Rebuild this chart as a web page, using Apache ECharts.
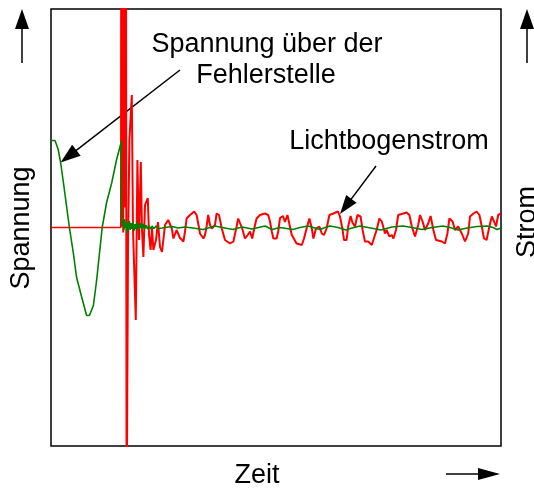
<!DOCTYPE html>
<html>
<head>
<meta charset="utf-8">
<script src="https://cdn.jsdelivr.net/npm/echarts@6/dist/echarts.min.js"></script>
<style>
  html, body { margin: 0; padding: 0; background: #fff; }
  #chart { width: 534px; height: 488px; }
</style>
</head>
<body>
<div id="chart"></div>
<script>
// Zeit in ms, Spannung in kV, Strom in kA

// Spannung über der Fehlerstelle
const voltageTime = [
  0, 0.5, 1.0, 1.8, 2.4, 3.1, 3.9, 4.6, 5.6, 6.4,
  7.7, 8.9, 9.6, 10.6, 11.4, 12.8, 13.9, 15.2, 16.4, 17.6,
  17.7, 17.9, 18.05, 18.25, 18.4, 18.6, 18.8, 19.0, 19.25, 19.4,
  19.6, 19.8, 20.0, 20.25, 20.5, 20.75, 21.0, 21.25, 21.5, 21.75,
  22.0, 22.25, 22.5, 22.75, 23.0, 23.4, 23.75, 24.1, 24.5, 24.9,
  25.25, 25.75, 26.25, 26.75, 27.25, 27.75,
  28.5, 30.25, 31.75, 33.5, 35.5, 38.0, 39.75, 41.0, 42.75, 45.5,
  47.75, 50.25, 53.5, 55.25, 57.25, 60.5, 62.25, 64.25, 66.0, 67.25,
  68.5, 69.75, 71.75, 73.75, 75.25, 77.25, 79.25, 82.5, 85.25, 88.0,
  90.25, 92.75, 95.25, 98.0, 99.75, 101.75, 104.0, 106.5, 109.0, 110.5,
  111.5, 112.5
];
const voltage = [
  8.7, 8.8, 8.7, 7.8, 6.5, 4.5, 2.1, 0.0, -2.6, -5.0,
  -7.0, -8.8, -8.8, -7.8, -5.3, 0.0, 2.5, 4.5, 6.8, 8.6,
  1.05, 0.15, 0.75, -0.25, 0.85, -0.05, 0.55, -0.55, 0.45, -0.15,
  0.65, -0.25, 0.45, -0.15, 0.55, -0.35, 0.35, -0.15, 0.55, -0.25,
  0.25, -0.05, 0.45, -0.15, 0.35, -0.15, 0.25, -0.15, 0.15, -0.15,
  0.15, -0.1, 0.15, -0.1, 0.1, -0.05,
  0, 0.1, -0.05, 0.05, -0.05, -0.2, 0, 0.15, 0, -0.2,
  0.05, -0.15, 0.15, -0.2, 0, -0.2, 0, 0.15, -0.05, -0.2,
  0, 0.15, 0, -0.25, -0.05, 0.15, 0, -0.25, 0.05, 0.15,
  0, -0.2, 0, 0.15, 0, -0.25, -0.05, 0.1, 0.15, 0,
  -0.2, -0.05
];

// Strom: Einschwingvorgang und Lichtbogenstrom
const currentTime = [
  0, 17.5, 17.55, 17.65, 17.75, 17.85, 17.95, 18.05, 18.15, 18.25,
  18.35, 18.45, 18.55, 18.65, 18.75, 18.9,
  19.25, 19.6, 20.2, 20.5, 21.2, 21.6, 22.0, 22.45, 22.75, 23.1,
  23.5, 24.2, 24.5, 24.9, 25.25, 25.6, 26.25, 26.75, 27.25, 27.75,
  28.5, 29.3, 29.75, 30.2, 30.6, 31.0, 31.4, 31.8, 32.25, 32.7,
  33.1, 33.5, 33.9, 34.75, 35.8, 36.4, 36.8, 37.25, 38.1, 38.5,
  38.9, 39.3, 39.75, 40.2, 41.0, 41.4, 42.0, 42.7, 43.5, 44.75,
  45.2, 45.6, 46.4, 46.8, 47.25, 47.8, 48.5, 49.2, 49.75, 50.3,
  51.0, 51.4, 52.25, 53.5, 54.3, 54.75, 55.2, 55.6, 56.4, 56.8,
  57.25, 58.0, 58.5, 59.1, 60.2, 61.4, 62.7, 63.25, 63.9, 64.6,
  65.2, 65.6, 66.25, 67.1, 67.7, 68.25, 68.9, 69.6, 70.6, 71.75,
  72.25, 72.9, 73.25, 73.9, 74.3, 74.9, 75.4, 76.0, 76.6, 77.4,
  77.9, 78.5, 79.3, 80.2, 80.6, 81.4, 82.1, 82.7, 83.5, 83.9,
  84.6, 85.2, 85.6, 86.25, 86.8, 87.7, 88.9, 89.6, 90.2, 91.0,
  91.8, 92.25, 92.9, 93.5, 94.3, 94.9, 95.6, 96.25, 97.7, 98.5,
  99.1, 99.6, 100.4, 101.0, 101.8, 102.7, 103.5, 104.3, 104.75, 105.6,
  106.4, 107.1, 107.7, 108.25, 108.9, 109.6, 110.2, 110.75, 111.25, 111.8,
  112.5
];
const current = [
  0, 0, 60, 2, 60, 20, 60, -1, 60, 18,
  60, 4, 60, 22, 60, -60,
  -4.5, 17.5, 26.5, -0.5, -18.5, 13.5, -2.5, 13.1, -0.5, -5.9,
  4.5, 5.9, -1.5, -4.5, -0.1, -4.5, -2.5, 1.1, -3.9, -4.9,
  0.5, 1.5, 1.5, -0.2, -2.2, -2.1, -0.5, -0.1, -2.1, -2.5,
  -2.8, -0.8, 1.8, 2.5, 3.2, 2.5, 0.8, -1.2, -2.2, -1.5,
  0.2, 2.5, 0.5, -0.2, 0.5, 2.8, 2.5, -0.2, -2.5, -3.2,
  -3.5, -2.8, 0.2, 1.8, 1.5, -0.2, -2.2, -1.5, -0.8, -2.2,
  0.5, 1.8, 2.5, 2.8, 2.5, 1.2, -0.8, -2.2, -2.2, -0.8,
  1.9, 2.3, 1.1, 2.5, -1.5, -3.2, -3.5, -2.2, -0.2, 1.8,
  -0.2, -2.2, -0.2, 0.2, -1.2, -1.5, -0.2, 2.5, 2.8, 3.2,
  2.2, -0.5, -2.5, -2.5, 0.2, 2.3, 0.9, 0.2, 2.5, 2.2,
  -0.5, -2.8, -2.8, -3.5, -3.2, -0.5, 1.8, 1.2, -1.2, -0.5,
  -1.8, -1.5, -2.2, -0.5, 2.5, 2.7, 3.0, 2.5, 0.2, -1.8,
  0.5, 2.5, 1.2, -0.5, 0.8, 2.3, -0.5, -2.5, -2.8, -3.2,
  -1.2, 1.8, 1.2, -0.5, 0.2, -1.2, -2.8, -1.2, 2.2, 2.8,
  3.2, 2.5, 0.2, -2.2, -2.5, 0.2, 2.2, 1.2, 0.2, 2.5,
  2.8
];

const faultTime = 17.5;   // Zündung des Lichtbogens

const FONT = '"Liberation Sans", Arial, Helvetica, sans-serif';
const TEXT_SIZE = 27;

const zip = (xs, ys) => xs.map((x, i) => [x, ys[i]]);
const faultIdx = currentTime.indexOf(faultTime);

const chart = echarts.init(document.getElementById('chart'), null, { renderer: 'canvas' });

chart.setOption({
  animation: false,
  grid: {
    left: 51, right: 33, top: 9, bottom: 42,
    show: true, borderColor: '#000', borderWidth: 1.5, backgroundColor: 'transparent'
  },
  xAxis: { type: 'value', min: 0, max: 112.5, show: false },
  yAxis: [
    { type: 'value', min: -21.85, max: 21.85, show: false },
    { type: 'value', min: -43.7, max: 43.7, show: false }
  ],
  series: [
    {
      name: 'Strom vor Zündung', type: 'line', yAxisIndex: 1, symbol: 'none', silent: true,
      data: zip(currentTime.slice(0, faultIdx + 1), current.slice(0, faultIdx + 1)),
      lineStyle: { color: '#ff0000', width: 1.5 }
    },
    {
      name: 'Lichtbogenstrom', type: 'line', yAxisIndex: 1, symbol: 'none', silent: true,
      data: zip(currentTime.slice(faultIdx), current.slice(faultIdx)),
      lineStyle: { color: '#ff0000', width: 2 }
    },
    {
      name: 'Spannung', type: 'line', yAxisIndex: 0, symbol: 'none', silent: true,
      data: zip(voltageTime, voltage),
      lineStyle: { color: '#008000', width: 1.6 }
    }
  ]
});

// Pfeil aus Linie und gefüllter Spitze
function arrow(tail, tip, len, half, width) {
  const dx = tip[0] - tail[0], dy = tip[1] - tail[1];
  const d = Math.hypot(dx, dy);
  const ux = dx / d, uy = dy / d;
  const bx = tip[0] - ux * len, by = tip[1] - uy * len;
  return [
    { type: 'line', silent: true,
      shape: { x1: tail[0], y1: tail[1], x2: bx + ux, y2: by + uy },
      style: { stroke: '#000', lineWidth: width } },
    { type: 'polygon', silent: true,
      shape: { points: [tip, [bx - uy * half, by + ux * half], [bx + uy * half, by - ux * half]] },
      style: { fill: '#000' } }
  ];
}

function label(text, x, y, rotation) {
  return {
    type: 'text', silent: true, x: x, y: y, rotation: rotation || 0,
    style: {
      text: text, fill: '#000', font: TEXT_SIZE + 'px ' + FONT,
      align: 'center', verticalAlign: 'middle'
    }
  };
}

const toVoltPx = p => chart.convertToPixel({ xAxisIndex: 0, yAxisIndex: 0 }, p);
const toAmpPx = p => chart.convertToPixel({ xAxisIndex: 0, yAxisIndex: 1 }, p);

const graphics = [].concat(
  // Achsenpfeile
  arrow([22, 63], [22, 9], 20, 7, 1.5),
  arrow([527, 63], [527, 9], 20, 7, 1.5),
  arrow([446, 474], [500, 474], 22, 6, 1.5),
  // Hinweispfeile auf die Kurven
  arrow(toVoltPx([32.25, 15.75]), toVoltPx([2.4, 6.5]), 20, 7, 1.5),
  arrow(toAmpPx([81.25, 12.3]), toAmpPx([72.25, 2.7]), 19, 6.5, 1.5),
  [
    label('Spannung über der', 267, 45),
    label('Fehlerstelle', 266, 76),
    label('Lichtbogenstrom', 389, 142),
    label('Zeit', 257, 476),
    label('Spannung', 22, 228, Math.PI / 2),
    label('Strom', 528, 222, Math.PI / 2)
  ]
);

chart.setOption({ graphic: { elements: graphics } });
</script>
</body>
</html>
